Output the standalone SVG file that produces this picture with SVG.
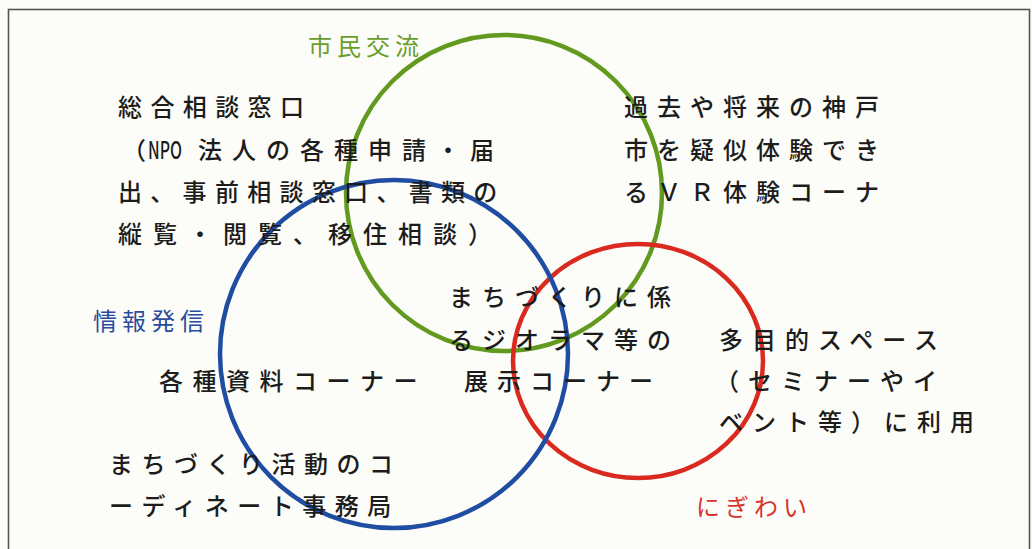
<svg xmlns="http://www.w3.org/2000/svg" width="1032" height="549" viewBox="0 0 1032 549">
<style>
.t{font-family:"Noto Sans CJK JP","Noto Sans",sans-serif;font-size:24px;font-weight:500;fill:#1c1c1c;}
.lbl{font-family:"Noto Sans CJK JP","Noto Sans",sans-serif;font-size:24px;letter-spacing:5px;}
.c{fill:none;stroke-width:4.5;}
</style>
<rect x="0" y="0" width="1032" height="549" fill="#fcfcf8"/>
<rect x="8.5" y="9.5" width="1021" height="560" fill="none" stroke="#555" stroke-width="1.6"/>
<g id="circles">
<circle id="circle-shimin" class="c" cx="504" cy="193" r="158" stroke="#62991f"/>
<ellipse id="circle-nigiwai" class="c" cx="638" cy="361" rx="125" ry="117" stroke="#da2a1f"/>
<circle id="circle-joho" class="c" cx="394" cy="354" r="174" stroke="#1f4da2"/>
</g>
<g id="connectors"></g>
<g id="label-shimin"><text class="lbl" x="308" y="55" fill="#6a9e2c">市民交流</text></g>
<g id="label-joho"><text class="lbl" x="93" y="330" fill="#2b4c9c">情報発信</text></g>
<g id="label-nigiwai"><text class="lbl" x="696" y="516" fill="#d6352b">にぎわい</text></g>
<g id="node-sodan">
<text class="t" x="118" y="116" letter-spacing="8.4">総合相談窓口</text>
<text class="t" x="122" y="159">（</text>
<text class="t" x="148" y="159" textLength="34" lengthAdjust="spacingAndGlyphs">NPO</text>
<text class="t" x="198" y="159" letter-spacing="10">法人の各種申請・届</text>
<text class="t" x="118" y="201" letter-spacing="8.3">出、事前相談窓口、書類の</text>
<text class="t" x="118" y="243" letter-spacing="11">縦覧・閲覧、移住相談）</text>
</g>
<g id="node-vr">
<text class="t" x="624" y="116" letter-spacing="9">過去や将来の神戸</text>
<text class="t" x="624" y="159" letter-spacing="9">市を疑似体験でき</text>
<text class="t" x="624" y="201" letter-spacing="9">るＶＲ体験コーナ</text>
</g>
<g id="node-diorama">
<text class="t" x="449" y="306" letter-spacing="9">まちづくりに係</text>
<text class="t" x="449" y="349" letter-spacing="9">るジオラマ等の</text>
<text class="t" x="464" y="390" letter-spacing="9">展示コーナー</text>
</g>
<g id="node-shiryo">
<text class="t" x="159" y="390" letter-spacing="9.5">各種資料コーナー</text>
</g>
<g id="node-space">
<text class="t" x="719" y="349" letter-spacing="9">多目的スペース</text>
<text class="t" x="715" y="390" letter-spacing="9">（セミナーやイ</text>
<text class="t" x="719" y="431" letter-spacing="9">ベント等）に利用</text>
</g>
<g id="node-coordinate">
<text class="t" x="109" y="473" letter-spacing="8.5">まちづくり活動のコ</text>
<text class="t" x="109" y="515" letter-spacing="8.5">ーディネート事務局</text>
</g>
</svg>
